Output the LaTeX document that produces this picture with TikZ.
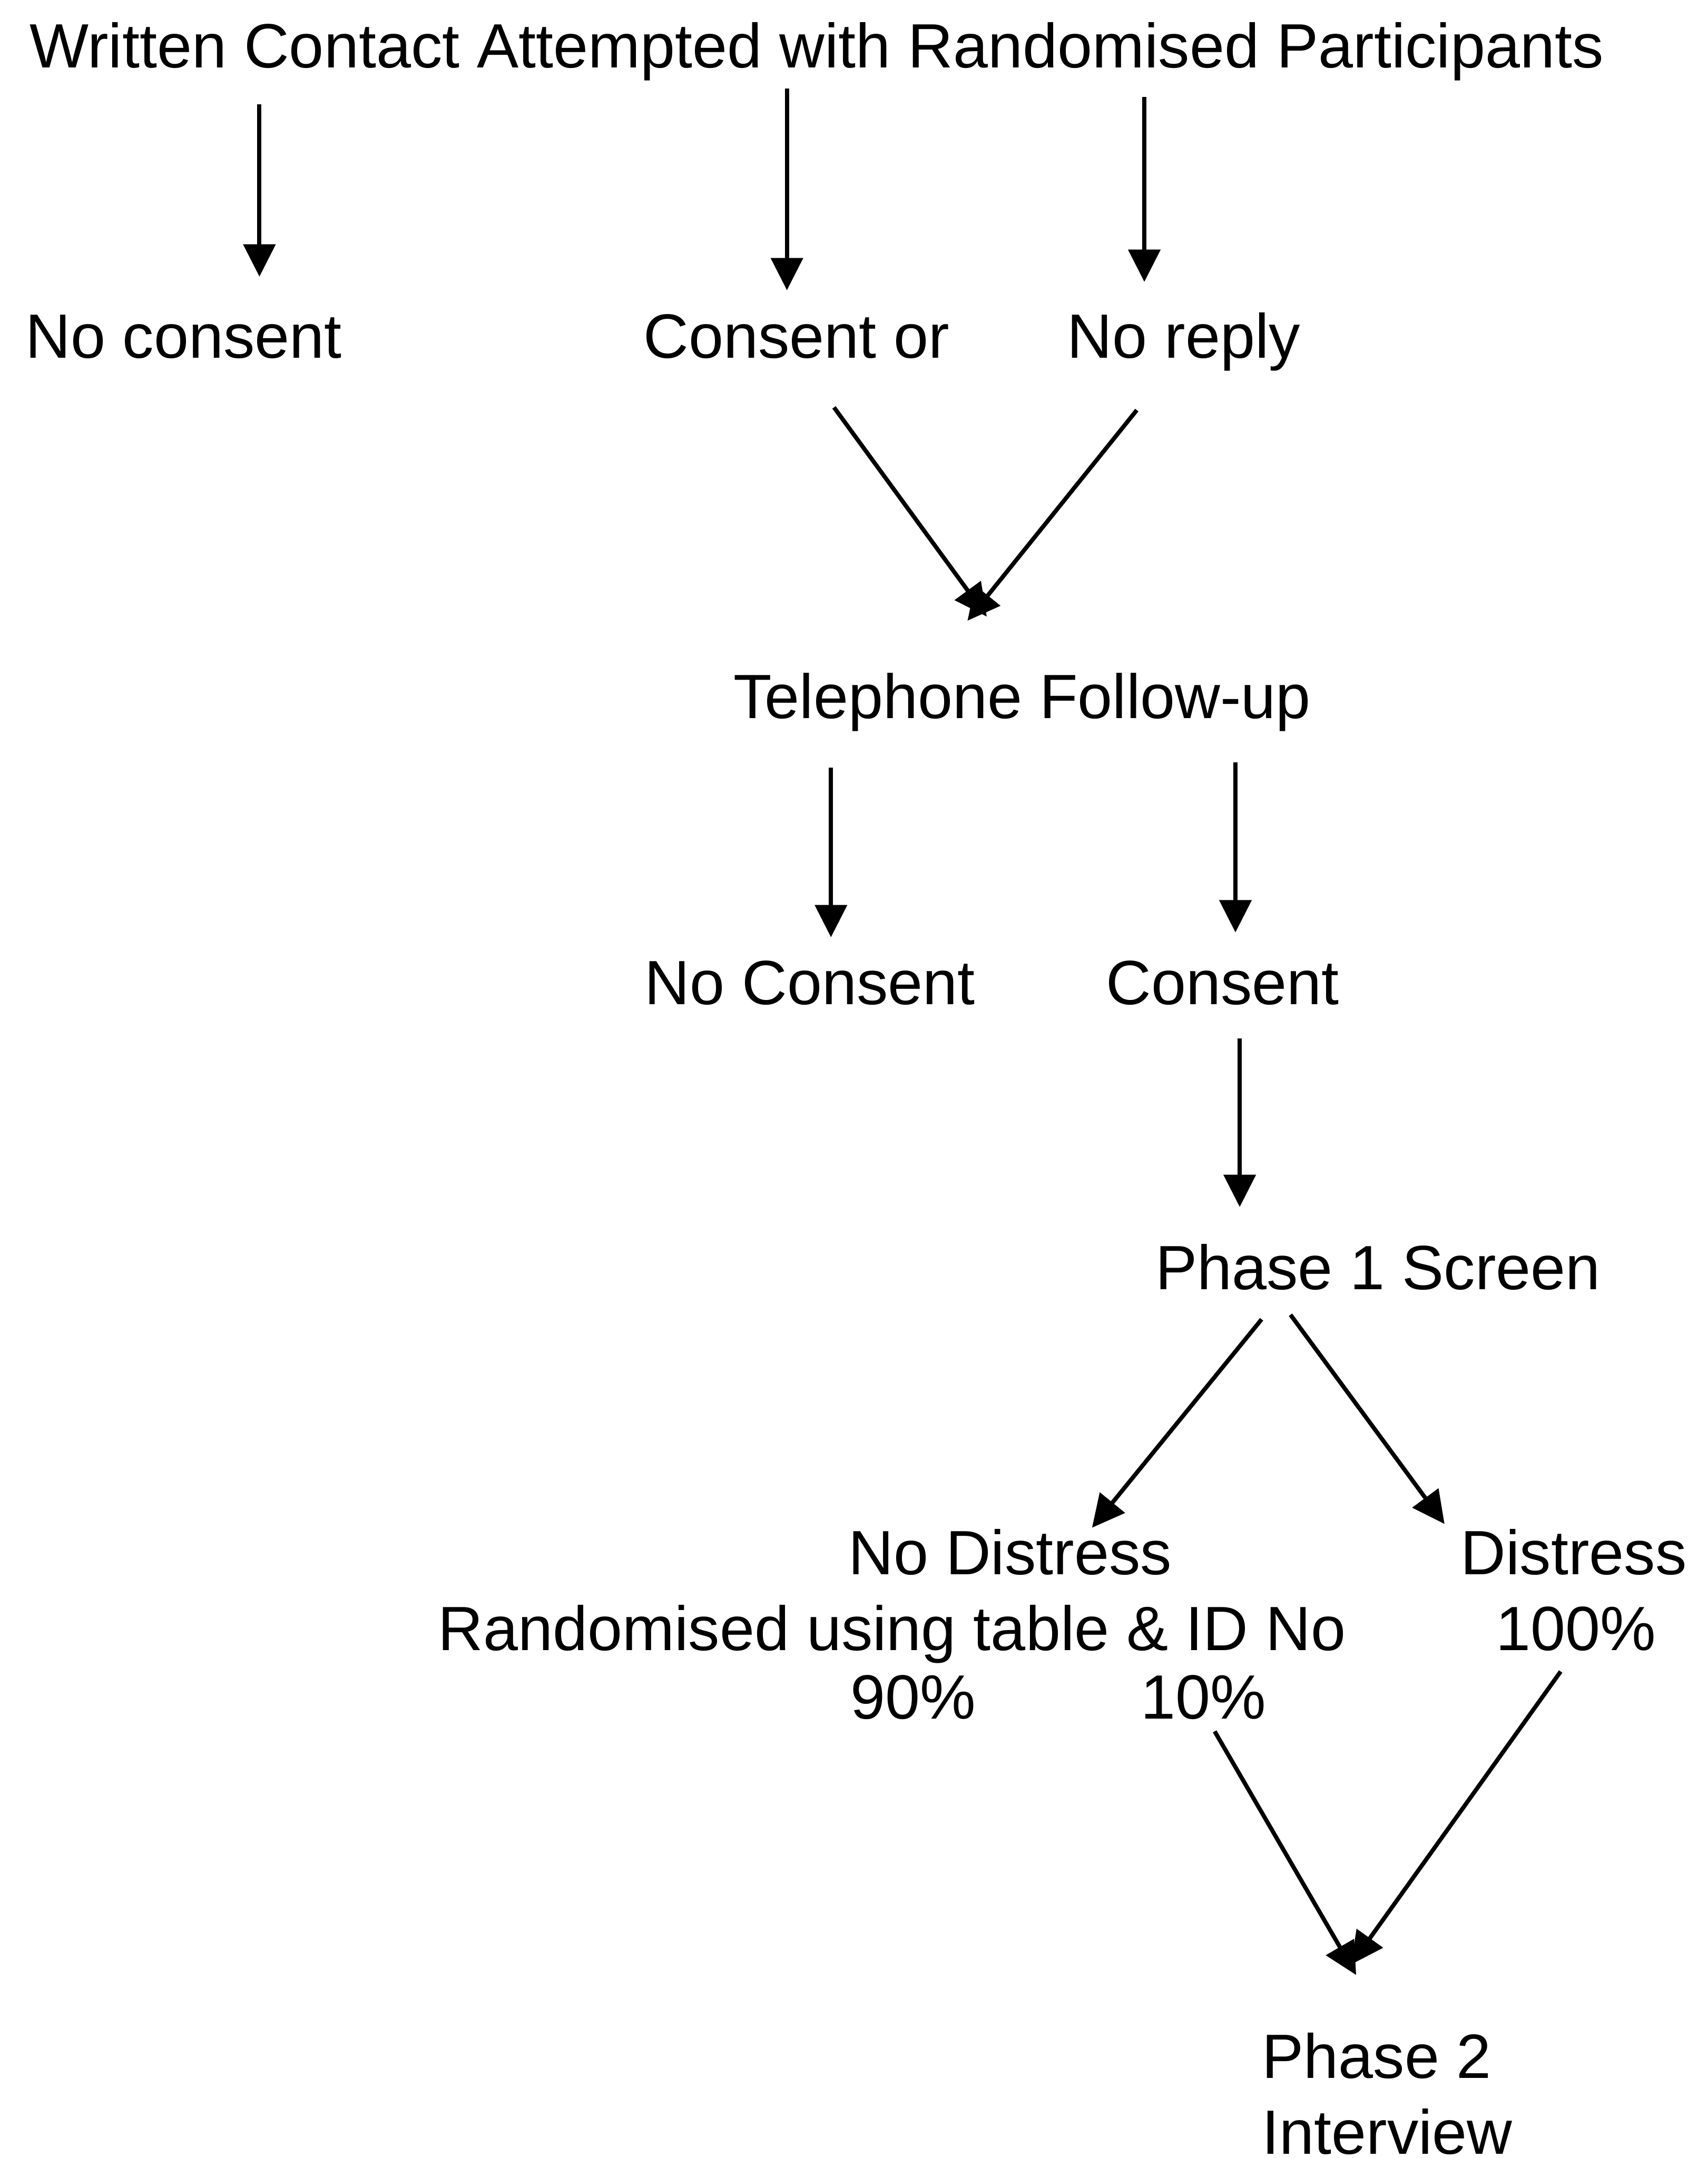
\documentclass[tikz,border=0pt]{standalone}
\usepackage{fontspec}
\setmainfont{Liberation Sans}
\usetikzlibrary{arrows.meta}
\begin{document}
\begin{tikzpicture}[x=0.03cm,y=-0.03cm,
  lbl/.style={anchor=base west,inner sep=0pt,outer sep=0pt,
    font=\fontsize{38.8pt}{46pt}\selectfont},
  flow/.style={line width=2.6pt,
    -{Triangle[length=0.705cm,width=0.69cm]}}]
\useasboundingbox (0,0) rectangle (1241,1568);
\fill[white] (0,0) rectangle (1241,1568);

% labels
\node[lbl] (title)   at (21.6,49)   {Written Contact Attempted with Randomised Participants};
\node[lbl] (nocons1) at (18.5,260)  {No consent};
\node[lbl] (consor)  at (467.7,260) {Consent or};
\node[lbl] (noreply) at (775.5,260) {No reply};
\node[lbl] (tel)     at (533,522)   {Telephone Follow-up};
\node[lbl] (nocons2) at (468.5,730) {No Consent};
\node[lbl] (cons)    at (803.7,730) {Consent};
\node[lbl] (ph1)     at (839.5,937) {Phase 1 Screen};
\node[lbl] (nodis)   at (616.5,1144) {No Distress};
\node[lbl] (dis)     at (1061.4,1144) {Distress};
\node[lbl] (rand)    at (318.4,1199) {Randomised using table \& ID No};
\node[lbl] (hund)    at (1087,1199) {100\%};
\node[lbl] (ninety)  at (618,1249)  {90\%};
\node[lbl] (ten)     at (829,1249)  {10\%};
\node[lbl] (ph2)     at (917,1510)  {Phase 2};
\node[lbl] (intv)    at (917,1565)  {Interview};

% connector end points
\coordinate (t1) at (188.5,75.9);   \coordinate (h1) at (188.5,201);
\coordinate (t2) at (571.8,64.5);   \coordinate (h2) at (571.8,210.9);
\coordinate (t3) at (831.5,70.6);   \coordinate (h3) at (831.5,204.8);
\coordinate (t4) at (606,296);      \coordinate (h4) at (717,448);
\coordinate (t5) at (826,298);      \coordinate (h5) at (703,451);
\coordinate (t6) at (603.8,557.7);  \coordinate (h6) at (603.8,681);
\coordinate (t7) at (897.7,554);    \coordinate (h7) at (897.7,677.5);
\coordinate (t8) at (900.8,754.5);  \coordinate (h8) at (900.8,877);
\coordinate (t9) at (916.7,958.6);  \coordinate (h9) at (793.5,1110);
\coordinate (t10) at (937.7,955.3); \coordinate (h10) at (1049.6,1107.3);
\coordinate (t11) at (882.6,1258);  \coordinate (h11) at (985.4,1435);
\coordinate (t12) at (1134,1214.5); \coordinate (h12) at (981.7,1427.4);

% connectors
\draw[flow] (t1) -- (h1);
\draw[flow] (t2) -- (h2);
\draw[flow] (t3) -- (h3);
\draw[flow] (t4) -- (h4);
\draw[flow] (t5) -- (h5);
\draw[flow] (t6) -- (h6);
\draw[flow] (t7) -- (h7);
\draw[flow] (t8) -- (h8);
\draw[flow] (t9) -- (h9);
\draw[flow] (t10) -- (h10);
\draw[flow] (t11) -- (h11);
\draw[flow] (t12) -- (h12);
\end{tikzpicture}
\end{document}
